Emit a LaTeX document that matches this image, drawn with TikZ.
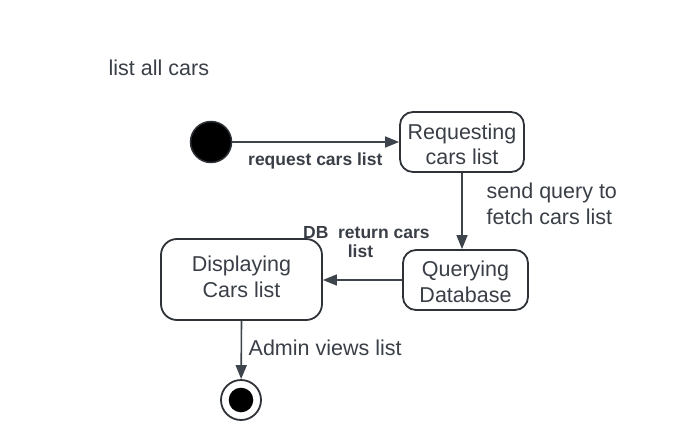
\documentclass[tikz,border=0pt]{standalone}
\usepackage{fontspec}
\setmainfont{Liberation Sans}
\usetikzlibrary{arrows.meta,calc}
\definecolor{lineC}{HTML}{3E444C}
\definecolor{boxC}{HTML}{2F3338}
\definecolor{txtC}{HTML}{3A3F47}
\tikzset{
  statebox/.style={draw=boxC, line width=1.8pt, rounded corners=13pt, fill=white,
    align=center, text=txtC, inner sep=0pt, font=\fontsize{21.5}{25.5}\selectfont},
  conn/.style={draw=lineC, line width=1.6pt, -{Triangle[length=14pt,width=11pt]}},
  biglabel/.style={text=txtC, inner sep=0pt, font=\fontsize{21.5}{25.5}\selectfont},
  boldlabel/.style={text=txtC, inner sep=0pt, font=\fontsize{17.5}{19.5}\selectfont\bfseries},
}
\begin{document}
\begin{tikzpicture}[x=1pt,y=-1pt]
\useasboundingbox (0,0) rectangle (688,439);
\fill[white] (0,0) rectangle (688,439);

\node[biglabel, anchor=base west] (title) at (108.5,75) {list all cars};

\node[circle, fill=black, draw=boxC, line width=1.5pt, minimum size=41pt, inner sep=0pt] (init) at (211,142) {};
\node[statebox, minimum width=124pt, minimum height=60pt] (req) at (462,142) {\rule{0pt}{20pt}Requesting\\cars list};
\node[statebox, minimum width=125pt, minimum height=60pt] (quer) at (465.5,280) {\rule{0pt}{19pt}Querying\\Database};
\node[statebox, rounded corners=16pt, minimum width=161pt, minimum height=81pt] (disp) at (241.5,279.5) {Displaying\\Cars list\rule[-5.5pt]{0pt}{5.5pt}};
\node[circle, draw=boxC, fill=white, line width=1.8pt, minimum size=40pt, inner sep=0pt] (fin) at (241,400) {};
\fill[black] (fin.center) circle (12.3pt);

\draw[conn] (init) -- (req);
\draw[conn] (req.south) -- (req.south |- quer.north);
\draw[conn] (quer.west) -- (quer.west -| disp.east);
\draw[conn] (disp.south) -- (fin);

\node[boldlabel, anchor=base west] (l1) at (248,165) {request cars list};
\node[biglabel, anchor=base west] (l2) at (486.5,198.7) {send query to};
\node[biglabel, anchor=base west] (l2b) at (486.5,224.2) {fetch cars list};
\node[boldlabel, anchor=base west] (l3) at (303,238) {DB\ \ return cars};
\node[boldlabel, anchor=base] (l3b) at (360.5,257) {list};
\node[biglabel, anchor=base west] (l4) at (248.5,355) {Admin views list};
\end{tikzpicture}
\end{document}
